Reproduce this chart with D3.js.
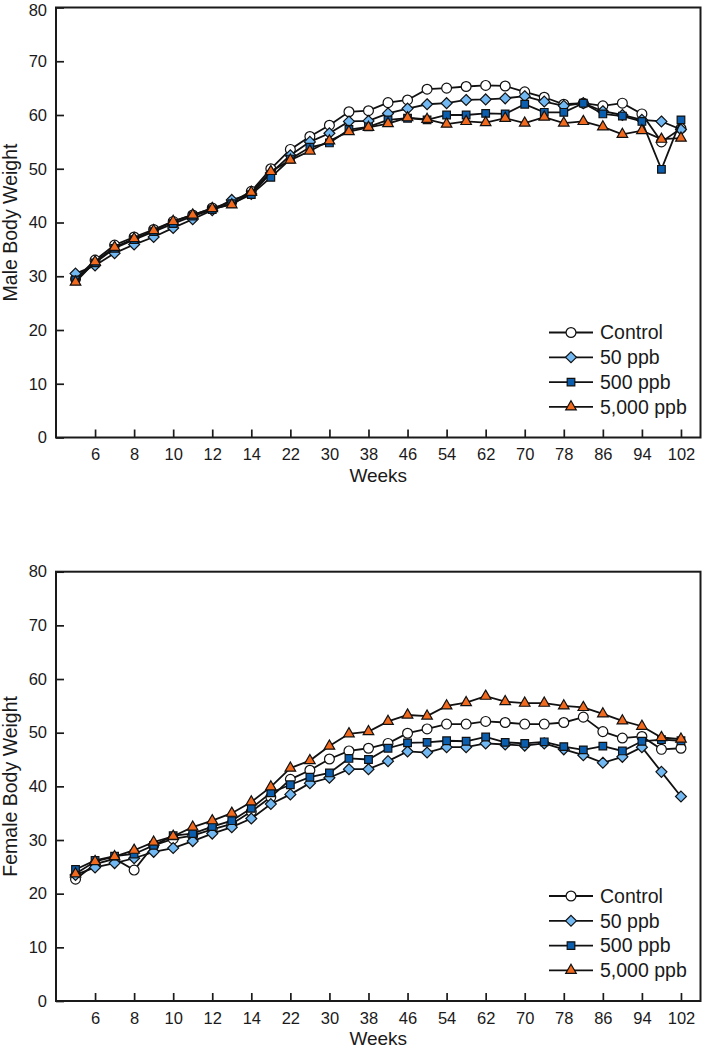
<!DOCTYPE html>
<html>
<head>
<meta charset="utf-8">
<script src="https://cdn.jsdelivr.net/npm/d3@7"></script>
<style>
  html, body { margin: 0; padding: 0; background: #fff; }
  svg { display: block; font-family: "Liberation Sans", Arial, sans-serif; }
</style>
</head>
<body>
<svg id="chart" width="702" height="1050"></svg>
<script>
// ---- data ----
const weeks = [5,6,7,8,9,10,11,12,13,14,18,22,26,30,34,38,42,46,50,54,58,62,66,70,74,78,82,86,90,94,98,102];
const xTickWeeks = [6,8,10,12,14,22,30,38,46,54,62,70,78,86,94,102];
const yTicks = [0,10,20,30,40,50,60,70,80];
const seriesNames = ["Control", "50 ppb", "500 ppb", "5,000 ppb"];

const maleControl = [29.5,33.0,35.8,37.3,38.7,40.2,41.4,42.7,43.8,45.8,50.0,53.6,56.0,58.1,60.6,60.8,62.3,62.8,64.8,65.0,65.3,65.5,65.4,64.3,63.3,62.0,62.2,61.7,62.2,60.2,55.0,57.5];
const male50 = [30.5,32.0,34.3,35.9,37.3,39.0,40.6,42.3,44.2,45.3,49.2,52.5,55.0,56.6,58.8,58.9,60.3,61.2,62.0,62.2,62.8,62.9,63.1,63.5,62.5,61.7,62.2,60.7,60.0,59.1,58.8,57.3];
const male500 = [29.3,32.5,35.2,36.8,38.3,39.8,41.2,42.4,43.5,45.2,48.4,51.8,54.0,54.8,57.3,57.8,59.1,59.4,59.1,60.0,60.0,60.3,60.2,62.0,60.5,60.5,62.2,60.2,59.8,58.8,49.9,59.1];
const male5000 = [28.9,32.7,35.4,37.0,38.5,40.2,41.4,42.6,43.3,45.6,49.5,51.6,53.3,55.2,56.9,57.7,58.4,59.5,59.2,58.3,58.8,58.6,59.4,58.5,59.6,58.5,58.8,57.8,56.4,57.1,55.5,55.7];

const femaleControl = [22.7,25.5,26.5,24.4,29.0,30.2,30.8,32.0,33.0,35.3,38.0,41.3,43.0,45.1,46.6,47.1,48.0,49.9,50.7,51.6,51.6,52.1,51.9,51.6,51.6,51.9,52.9,50.2,49.0,49.3,46.9,47.1];
const female50 = [23.5,24.9,25.7,26.6,27.8,28.5,29.8,31.2,32.4,34.0,36.7,38.5,40.6,41.6,43.2,43.2,44.7,46.5,46.3,47.3,47.3,48.0,47.8,47.6,48.0,46.9,45.8,44.4,45.5,47.3,42.7,38.1];
const female500 = [24.5,26.2,27.0,27.4,29.0,30.8,31.2,32.5,33.6,35.9,38.8,40.3,41.7,42.5,45.2,45.0,47.1,48.1,48.2,48.5,48.4,49.2,48.2,48.0,48.3,47.4,46.8,47.5,46.6,48.4,48.7,48.5];
const female5000 = [23.7,26.0,26.9,28.1,29.6,30.7,32.4,33.6,35.0,37.1,39.9,43.4,44.8,47.5,49.8,50.2,52.1,53.3,53.1,55.0,55.6,56.8,55.8,55.5,55.5,55.0,54.7,53.5,52.2,51.2,49.1,48.8];

// ---- styles ----
const styles = [
  { shape: d3.symbolCircle,   fill: "#ffffff", size: 76 },
  { shape: d3.symbolDiamond2, fill: "#72b8f2", size: 76 },
  { shape: d3.symbolSquare2,  fill: "#0b5eae", size: 74 },
  { shape: d3.symbolTriangle2,fill: "#f26a1e", size: 80 }
];

const svg = d3.select("#chart");

function drawPanel(cfg) {
  const { top, bottom, left, right, title, series } = cfg;
  const g = svg.append("g");
  const x = d3.scaleLinear().domain([-1, 32]).range([left, right]);
  const y = d3.scaleLinear().domain([0, 80]).range([bottom, top]);

  const xAxis = d3.axisBottom(x)
    .tickValues(xTickWeeks.map(w => weeks.indexOf(w)))
    .tickFormat(i => weeks[i])
    .tickSizeInner(-8).tickSizeOuter(0).tickPadding(11);
  const gx = g.append("g").attr("transform", `translate(0,${bottom})`).call(xAxis);
  gx.select(".domain").remove();
  gx.selectAll(".tick line").attr("stroke", "#1a1a1a").attr("stroke-width", 1.7);
  gx.selectAll("text").attr("font-size", 16.5).attr("fill", "#1a1a1a")
    .attr("font-family", "'Liberation Sans', Arial, sans-serif");

  const yAxis = d3.axisLeft(y).tickValues(yTicks)
    .tickSizeInner(-8).tickSizeOuter(0).tickPadding(9);
  const gy = g.append("g").attr("transform", `translate(${left},0)`).call(yAxis);
  gy.select(".domain").remove();
  gy.selectAll(".tick line").attr("stroke", "#1a1a1a").attr("stroke-width", 1.7);
  gy.selectAll("text").attr("font-size", 16.5).attr("fill", "#1a1a1a")
    .attr("font-family", "'Liberation Sans', Arial, sans-serif")
    .attr("dy", d => (top < 20 && d === 80) ? "0.46em" : "0.32em");

  g.append("rect").attr("x", left).attr("y", top)
    .attr("width", right - left).attr("height", bottom - top)
    .attr("fill", "none").attr("stroke", "#1a1a1a").attr("stroke-width", 2);

  g.append("text").attr("x", (left + right) / 2).attr("y", bottom + 44)
    .attr("text-anchor", "middle").attr("font-size", 19).attr("fill", "#1a1a1a")
    .text("Weeks");
  g.append("text")
    .attr("transform", `translate(17,${(top + bottom) / 2}) rotate(-90)`)
    .attr("text-anchor", "middle").attr("font-size", 19.5).attr("fill", "#1a1a1a")
    .text(title);

  const line = d3.line().x((d, i) => x(i)).y(d => y(d));

  series.forEach((vals, s) => {
    const st = styles[s];
    g.append("path").datum(vals).attr("d", line)
      .attr("fill", "none").attr("stroke", "#111").attr("stroke-width", 1.8);
    g.selectAll(null).data(vals).enter().append("path")
      .attr("d", d3.symbol().type(st.shape).size(st.size))
      .attr("transform", (d, i) => `translate(${x(i)},${y(d)})`)
      .attr("fill", st.fill).attr("stroke", "#111").attr("stroke-width", 1.2);
  });

  const lg = g.append("g");
  seriesNames.forEach((name, s) => {
    const st = styles[s];
    const ly = bottom - 105 + s * 24.8;
    lg.append("line").attr("x1", 549).attr("x2", 593).attr("y1", ly).attr("y2", ly)
      .attr("stroke", "#111").attr("stroke-width", 1.8);
    lg.append("path").attr("d", d3.symbol().type(st.shape).size(st.size))
      .attr("transform", `translate(571,${ly})`)
      .attr("fill", st.fill).attr("stroke", "#111").attr("stroke-width", 1.2);
    lg.append("text").attr("x", 600).attr("y", ly).attr("dy", "0.35em")
      .attr("font-size", 19.5).attr("fill", "#1a1a1a").text(name);
  });
}

drawPanel({ top: 7.5, bottom: 437.5, left: 56, right: 700.5, title: "Male Body Weight",
  series: [maleControl, male50, male500, male5000] });
drawPanel({ top: 571.7, bottom: 1001, left: 56, right: 700.5, title: "Female Body Weight",
  series: [femaleControl, female50, female500, female5000] });
</script>
</body>
</html>
